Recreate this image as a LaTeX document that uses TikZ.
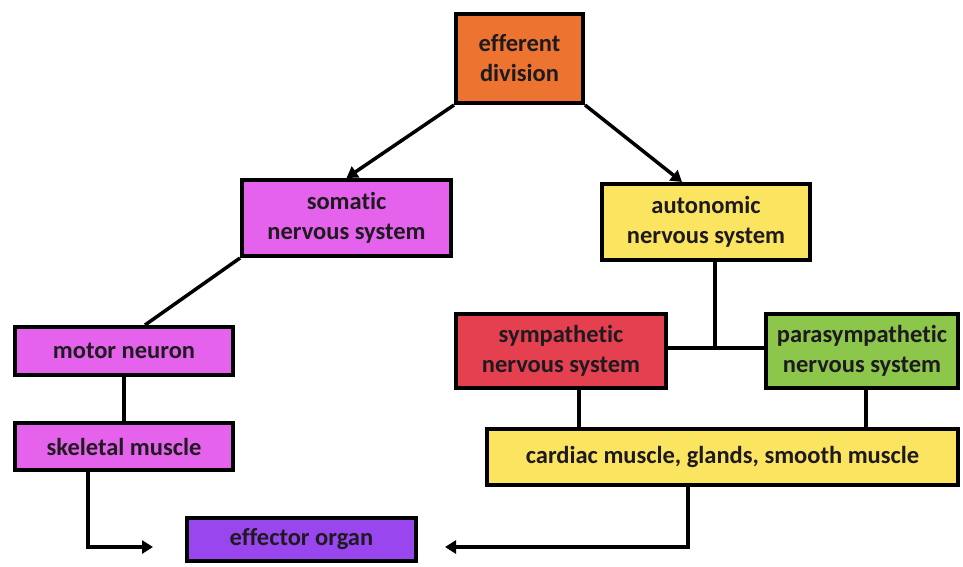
\documentclass[tikz,border=0pt]{standalone}
\usepackage{fontspec}
\setmainfont[Ligatures=NoCommon]{Carlito}
\usetikzlibrary{arrows.meta,calc}
\definecolor{cOrange}{HTML}{EC7430}
\definecolor{cMag}{HTML}{E563EC}
\definecolor{cYel}{HTML}{FAE460}
\definecolor{cRed}{HTML}{E5404F}
\definecolor{cGreen}{HTML}{8CC64A}
\definecolor{cPurp}{HTML}{9A46EE}
\definecolor{cText}{HTML}{1E1A20}
\tikzset{
  box/.style={draw=black, line width=4pt, rectangle, align=center, inner sep=0pt,
    font=\bfseries\fontsize{24.5}{30}\selectfont, text=cText},
  conn/.style={draw=black, line width=3.5pt},
  arr/.style={conn, -{Triangle[length=11pt,width=13pt]}},
}
\begin{document}
\begin{tikzpicture}[x=1pt,y=1pt]
\useasboundingbox (0,0) rectangle (963,-566);
\node[box, fill=cOrange, minimum width=127, minimum height=89] (eff) at (519.5,-58.5) {efferent\\division};
\node[box, fill=cMag, minimum width=209, minimum height=76] (som) at (346.5,-218) {somatic\\nervous system};
\node[box, fill=cYel, minimum width=208, minimum height=76] (aut) at (706,-222) {autonomic\\nervous system};
\node[box, fill=cMag, minimum width=218, minimum height=48] (mot) at (124,-351) {motor neuron};
\node[box, fill=cMag, minimum width=218, minimum height=47] (ske) at (124,-446.5) {skeletal muscle};
\node[box, fill=cPurp, minimum width=229, minimum height=43] (eo) at (301.5,-539.5) {effector organ};
\node[box, fill=cRed, minimum width=210, minimum height=74] (sym) at (561,-351) {sympathetic\\nervous system};
\node[box, fill=cGreen, minimum width=192, minimum height=74] (para) at (862,-351) {parasympathetic\\nervous system};
\node[box, fill=cYel, minimum width=471, minimum height=56] (car) at (722.5,-457) {cardiac muscle, glands, smooth muscle};
\coordinate (lt) at (153,-547);
\coordinate (rt) at (445,-547);
\coordinate (jn) at (715,-348);
% connectors
\draw[arr] (eff.south west) -- (som.north);
\draw[arr] (eff.south east) -- ([xshift=-24pt]aut.north);
\draw[conn] (som.south west) -- ([xshift=21pt]mot.north);
\draw[conn] (mot.south) -- (ske.north);
\draw[arr] ([xshift=-36pt]ske.south) |- (lt);
\draw[arr] ([xshift=-34.5pt]car.south) |- (rt);
\draw[conn] (aut.south -| jn) -- (jn);
\draw[conn] (sym.east |- jn) -- (para.west |- jn);
\draw[conn] ([xshift=18pt]sym.south) -- ([xshift=18pt]sym.south |- car.north);
\draw[conn] ([xshift=4pt]para.south) -- ([xshift=4pt]para.south |- car.north);
\end{tikzpicture}
\end{document}
